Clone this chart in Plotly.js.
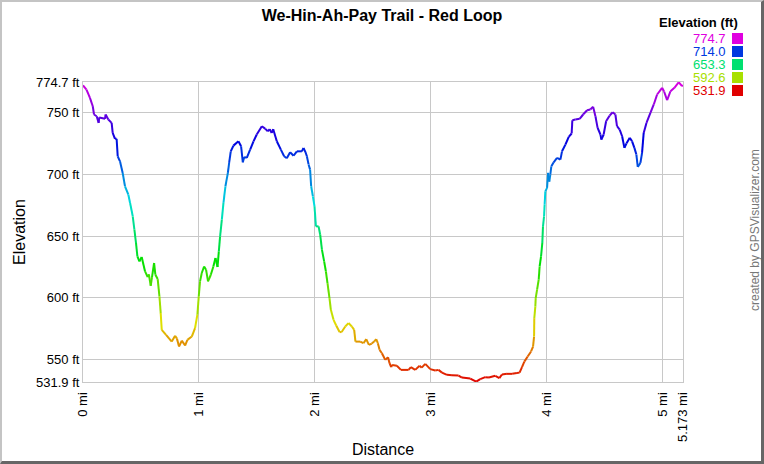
<!DOCTYPE html>
<html>
<head>
<meta charset="utf-8">
<script src="https://cdn.plot.ly/plotly-3.0.1.min.js"></script>
<style>
  html, body { margin: 0; padding: 0; background: #fff; }
  #wrap { position: relative; width: 764px; height: 464px; }
  #chart { width: 764px; height: 464px; }
  #frame { position: absolute; left: 0; top: 0; width: 764px; height: 464px; box-sizing: border-box;
           border-left: 2px solid #c4c4c4; border-top: 2px solid #c4c4c4;
           border-right: 3px solid #666; border-bottom: 3px solid #666; pointer-events: none; }
</style>
</head>
<body>
<div id="wrap"><div id="chart"></div><div id="frame"></div></div>
<script>
// ---- data ----
const distanceMi = [
  0.000,0.030,0.060,0.084,0.095,0.118,0.135,0.140,0.190,0.195,0.218,0.247,0.256,0.276,0.290,0.299,0.319,0.342,0.362,0.391,
  0.406,0.429,0.443,0.457,0.469,0.486,0.506,0.535,0.558,0.568,0.584,0.595,0.613,0.624,0.644,0.659,0.670,0.679,0.716,0.765,
  0.794,0.810,0.828,0.852,0.880,0.900,0.938,0.966,0.986,0.998,1.009,1.024,1.044,1.061,1.078,1.102,1.124,1.142,1.160,1.171,
  1.182,1.197,1.211,1.228,1.249,1.260,1.274,1.297,1.340,1.363,1.378,1.390,1.412,1.441,1.470,1.498,1.542,1.570,1.593,1.610,
  1.627,1.640,1.671,1.706,1.734,1.757,1.786,1.815,1.844,1.887,1.901,1.918,1.930,1.945,1.958,1.967,1.982,1.996,2.008,2.031,
  2.045,2.060,2.079,2.094,2.108,2.125,2.137,2.160,2.183,2.212,2.230,2.261,2.289,2.318,2.338,2.349,2.390,2.418,2.442,2.465,
  2.490,2.510,2.528,2.542,2.557,2.577,2.606,2.630,2.643,2.657,2.665,2.706,2.741,2.807,2.827,2.864,2.902,2.920,2.951,2.994,
  3.037,3.065,3.095,3.138,3.181,3.238,3.267,3.339,3.390,3.425,3.468,3.500,3.555,3.590,3.612,3.655,3.700,3.741,3.764,3.785,
  3.805,3.834,3.863,3.880,3.889,3.891,3.900,3.903,3.915,3.929,3.937,3.949,3.960,3.966,3.975,3.980,3.986,4.001,4.010,4.020,
  4.029,4.038,4.058,4.087,4.116,4.130,4.159,4.188,4.213,4.219,4.245,4.282,4.312,4.346,4.374,4.398,4.418,4.437,4.461,4.469,
  4.489,4.510,4.541,4.567,4.590,4.604,4.627,4.648,4.668,4.685,4.714,4.734,4.754,4.771,4.783,4.806,4.820,4.834,4.858,4.892,
  4.921,4.950,4.993,5.010,5.036,5.065,5.099,5.136,5.165,5.173
];
const elevationFt = [
  772.0,768.6,761.9,755.1,748.4,747.0,741.6,746.0,744.9,748.4,744.3,741.6,733.5,728.7,728.7,714.6,710.5,701.1,690.3,683.5,
  676.8,666.0,655.2,644.4,633.5,629.5,633.0,621.4,616.8,619.0,609.8,616.8,628.2,618.7,615.2,601.1,587.7,574.1,570.1,564.6,
  569.3,567.0,560.6,565.4,561.4,566.0,568.7,575.5,586.3,601.1,613.3,620.1,625.4,622.8,613.3,618.7,625.4,632.2,625.0,637.6,
  649.7,663.3,676.8,690.3,701.1,709.2,718.6,723.2,726.7,722.7,709.7,714.0,713.3,720.0,726.7,732.2,738.9,737.0,734.8,736.5,
  733.5,736.5,726.7,720.0,714.6,713.0,717.8,715.0,718.6,718.6,721.3,718.0,714.6,708.0,703.8,690.3,682.2,674.1,657.9,657.9,
  651.1,639.0,629.5,621.4,612.0,599.8,590.3,582.2,577.6,572.3,572.3,576.8,579.6,576.8,574.1,564.6,564.6,563.3,566.6,562.0,
  563.0,564.6,566.6,563.3,557.9,555.2,549.8,552.0,547.1,543.9,545.7,545.0,541.7,541.7,543.9,541.7,545.0,543.5,546.6,542.3,
  541.2,541.7,539.5,537.7,537.4,537.1,535.5,534.7,532.2,534.2,535.8,535.5,536.9,535.0,538.0,538.5,538.5,539.1,539.5,543.9,
  548.4,552.5,556.6,560.6,568.7,583.6,593.0,599.8,606.6,614.7,625.4,633.5,644.4,657.9,666.0,675.4,686.2,689.0,701.1,694.0,
  699.7,706.5,709.7,713.3,711.9,718.6,724.0,730.3,733.0,743.7,744.3,744.9,748.4,751.8,752.4,754.6,747.0,737.6,732.2,728.1,
  732.2,742.9,747.6,750.2,748.4,738.9,736.2,730.8,721.4,724.9,729.5,726.7,721.4,716.0,706.0,709.2,717.3,733.5,741.6,749.7,
  756.5,764.6,770.0,767.0,760.0,767.2,770.0,774.5,771.3,772.0
];
const elevMin = 531.9, elevMax = 774.7, distMax = 5.173;
const yTickVals = [774.7, 750, 700, 650, 600, 550, 531.9];
const yTickText = ["774.7 ft", "750 ft", "700 ft", "650 ft", "600 ft", "550 ft", "531.9 ft"];
const xTickVals = [0, 1, 2, 3, 4, 5, 5.173];
const xTickText = ["0 mi", "1 mi", "2 mi", "3 mi", "4 mi", "5 mi", "5.173 mi"];
const legendLevels = [774.7, 714.0, 653.3, 592.6, 531.9];
const legendLabels = ["774.7", "714.0", "653.3", "592.6", "531.9"];

// ---- colour scale: hue 0 (red) -> 300 (magenta) ----
function colorFor(e) {
  let t = (e - elevMin) / (elevMax - elevMin);
  t = Math.max(0, Math.min(1, t));
  const h = 300 * t, v = 224;
  const hp = h / 60, x = v * (1 - Math.abs(hp % 2 - 1));
  let r, g, b;
  if (hp < 1) { r = v; g = x; b = 0; }
  else if (hp < 2) { r = x; g = v; b = 0; }
  else if (hp < 3) { r = 0; g = v; b = x; }
  else if (hp < 4) { r = 0; g = x; b = v; }
  else { r = x; g = 0; b = v; }
  return `rgb(${Math.round(r)},${Math.round(g)},${Math.round(b)})`;
}

const traces = [];
for (let i = 0; i < distanceMi.length - 1; i++) {
  traces.push({
    x: [distanceMi[i], distanceMi[i + 1]],
    y: [elevationFt[i], elevationFt[i + 1]],
    mode: 'lines', type: 'scatter',
    line: { color: colorFor((elevationFt[i] + elevationFt[i + 1]) / 2), width: 2 },
    hoverinfo: 'skip', showlegend: false
  });
}

// ---- layout geometry ----
const W = 764, H = 464, mL = 83, mR = 81, mT = 82, mB = 82;
const pw = W - mL - mR, ph = H - mT - mB;
const px2x = p => (p - mL) / pw;
const py2y = p => 1 - (p - mT) / ph;

const FONT = 'Liberation Sans, Arial, sans-serif';
const annotations = [
  { text: '<b>Elevation (ft)</b>', xref: 'paper', yref: 'paper', x: px2x(739), y: py2y(22),
    xanchor: 'right', yanchor: 'middle', showarrow: false, borderpad: 0,
    font: { family: FONT, size: 13, color: '#000' } },
  { text: 'created by GPSVisualizer.com', xref: 'paper', yref: 'paper', x: px2x(755), y: py2y(230),
    xanchor: 'center', yanchor: 'middle', textangle: -90, showarrow: false,
    font: { family: FONT, size: 12, color: '#777' } }
];
const shapes = [];
legendLevels.forEach((lv, i) => {
  const cy = 38.5 + i * 13;
  annotations.push({ text: legendLabels[i], xref: 'paper', yref: 'paper', x: px2x(727), y: py2y(cy),
    xanchor: 'right', yanchor: 'middle', showarrow: false, borderpad: 0,
    font: { family: FONT, size: 13, color: colorFor(lv) } });
  shapes.push({ type: 'rect', xref: 'paper', yref: 'paper', x0: px2x(732), x1: px2x(743),
    y0: py2y(cy - 5.5), y1: py2y(cy + 5.5), fillcolor: colorFor(lv), line: { width: 0 } });
});

const layout = {
  width: W, height: H,
  margin: { l: mL, r: mR, t: mT, b: mB, pad: 0 },
  paper_bgcolor: '#fff', plot_bgcolor: '#fff',
  font: { family: FONT, size: 13, color: '#000' },
  title: { text: '<b>We-Hin-Ah-Pay Trail - Red Loop</b>', x: 0.5, xref: 'container',
           y: 1 - 15 / H, yref: 'container', yanchor: 'middle', font: { family: FONT, size: 16, color: '#000' } },
  xaxis: {
    range: [0, distMax], tickvals: xTickVals, ticktext: xTickText, tickangle: -90,
    showgrid: true, gridcolor: '#c8c8c8', gridwidth: 1, zeroline: false,
    showline: true, linecolor: '#c8c8c8', mirror: true,
    ticks: 'outside', ticklen: 4, tickcolor: 'rgba(0,0,0,0)',
    tickfont: { family: FONT, size: 13, color: '#000' },
    title: { text: 'Distance', font: { family: FONT, size: 16, color: '#000' }, standoff: 2 },
    fixedrange: true
  },
  yaxis: {
    range: [elevMin, elevMax], tickvals: yTickVals, ticktext: yTickText,
    showgrid: true, gridcolor: '#c8c8c8', gridwidth: 1, zeroline: false,
    showline: true, linecolor: '#c8c8c8', mirror: true,
    ticks: '', ticklen: 0,
    tickfont: { family: FONT, size: 13, color: '#000' },
    title: { text: 'Elevation', font: { family: FONT, size: 16, color: '#000' }, standoff: 6 },
    fixedrange: true
  },
  annotations: annotations,
  shapes: shapes,
  showlegend: false
};

Plotly.newPlot('chart', traces, layout, { displayModeBar: false, staticPlot: true });
</script>
</body>
</html>
